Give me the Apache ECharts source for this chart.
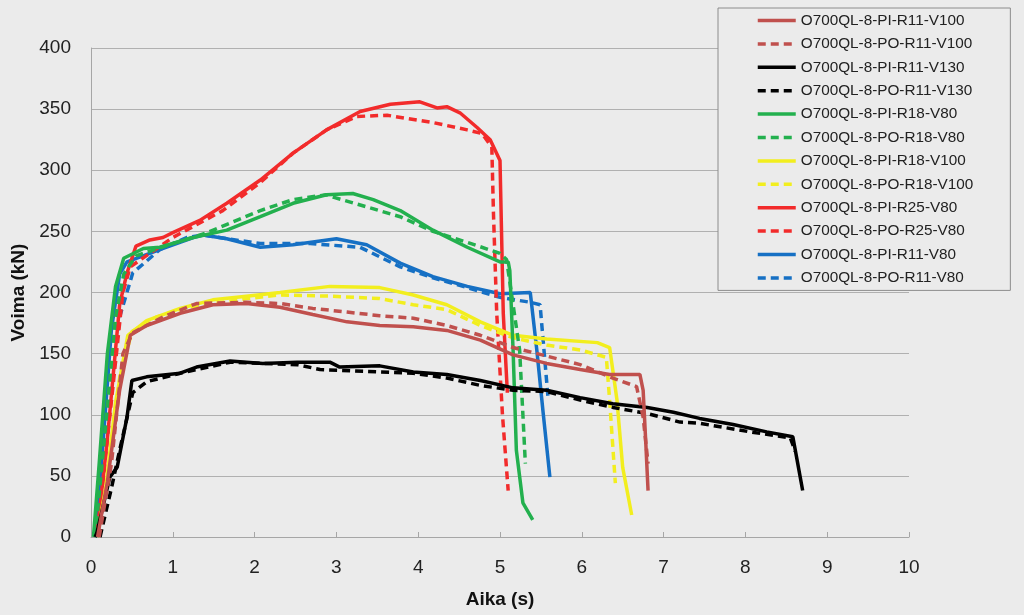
<!DOCTYPE html>
<html>
<head>
<meta charset="utf-8">
<title>Voima - Aika</title>
<script src="https://cdn.jsdelivr.net/npm/echarts@6/dist/echarts.min.js"></script>
<style>
	html,body{margin:0;padding:0;background:#ebebeb;}
	#main{width:1024px;height:615px;}
</style>
</head>
<body>
<div id="main"></div>
<script>
	// [aika (s), voima (kN)] luettu kuvasta
	var pi_r11_v100 = [[0.08,0],[0.2,45],[0.35,120],[0.48,165],[0.68,173],[1.09,183],[1.49,190],[1.9,191],[2.31,188],[2.71,182],[3.13,176],[3.53,173],[3.94,172],[4.35,169],[4.76,161],[5.16,149],[5.57,142],[5.98,137],[6.34,133],[6.71,133],[6.75,120],[6.78,80],[6.81,38]];
	var po_r11_v100 = [[0.1,0],[0.25,60],[0.39,150],[0.51,167],[0.88,180],[1.29,191],[1.9,192],[2.31,191],[2.71,187],[3.13,184],[3.53,181],[3.94,179],[4.35,173],[4.76,165],[5.16,155],[5.57,148],[5.98,141],[6.38,130],[6.67,123],[6.75,98],[6.81,60]];
	var pi_r11_v130 = [[0.05,0],[0.07,3],[0.23,49],[0.32,57],[0.44,98],[0.5,128],[0.68,131],[1.09,134],[1.29,139],[1.7,144],[2.1,142],[2.52,143],[2.92,143],[3.04,139],[3.53,140],[3.94,135],[4.35,133],[4.76,128],[5.16,122],[5.57,120],[5.98,114],[6.38,109],[6.8,106],[7.12,102],[7.44,97],[7.85,92],[8.26,86],[8.58,82],[8.64,60],[8.7,38]];
	var po_r11_v130 = [[0.11,0],[0.25,40],[0.35,71],[0.51,118],[0.68,127],[1.09,134],[1.7,143],[2.1,142],[2.52,141],[2.8,137],[3.53,135],[3.94,134],[4.35,130],[4.76,124],[5.16,120],[5.57,119],[5.98,112],[6.38,106],[6.8,101],[7.2,94],[7.44,93],[8.06,86],[8.55,81],[8.61,70]];
	var pi_r18_v80 = [[0.03,0],[0.1,60],[0.2,150],[0.3,205],[0.4,228],[0.64,236],[0.84,237],[1.25,245],[1.66,251],[2.07,262],[2.47,273],[2.88,280],[3.2,281],[3.45,276],[3.78,267],[4.18,251],[4.6,237],[5.0,225],[5.1,225],[5.12,218],[5.16,153],[5.2,71],[5.28,28],[5.4,14]];
	var po_r18_v80 = [[0.05,0],[0.15,70],[0.3,180],[0.4,215],[0.55,230],[1.0,240],[1.42,249],[2.07,267],[2.47,276],[2.88,280],[2.96,278],[3.37,270],[3.78,262],[4.18,250],[4.6,241],[5.0,232],[5.08,227],[5.16,190],[5.24,153],[5.31,60]];
	var pi_r18_v100 = [[0.07,0],[0.18,40],[0.3,110],[0.45,165],[0.68,177],[1.09,187],[1.49,194],[1.9,197],[2.31,200],[2.92,205],[3.53,204],[3.94,198],[4.35,190],[4.76,176],[5.16,165],[5.57,162],[6.19,159],[6.34,155],[6.43,112],[6.5,57],[6.61,18]];
	var po_r18_v100 = [[0.08,0],[0.2,45],[0.35,130],[0.5,168],[0.8,180],[1.2,188],[1.9,195],[2.31,198],[2.92,197],[3.53,195],[3.94,190],[4.35,186],[4.76,173],[5.16,163],[5.57,157],[5.98,153],[6.3,147],[6.34,112],[6.41,44]];
	var pi_r25_v80 = [[0.07,0],[0.2,80],[0.35,190],[0.44,216],[0.55,238],[0.72,243],[0.88,245],[1.0,249],[1.33,259],[1.66,273],[2.07,292],[2.47,314],[2.88,333],[3.29,348],[3.66,354],[4.02,356],[4.23,351],[4.35,352],[4.51,347],[4.72,335],[4.88,325],[5.0,308],[5.04,183],[5.09,118]];
	var po_r25_v80 = [[0.08,0],[0.2,80],[0.39,200],[0.48,221],[1.0,245],[1.61,267],[2.07,290],[2.47,314],[2.88,333],[3.25,344],[3.62,345],[4.18,339],[4.6,333],[4.78,330],[4.9,319],[4.92,265],[4.96,183],[5.03,100],[5.1,38]];
	var pi_r11_v80 = [[0.05,0],[0.15,80],[0.25,170],[0.35,215],[0.44,225],[0.84,235],[1.25,245],[1.37,247],[1.66,244],[2.07,237],[2.47,239],[3.0,244],[3.37,239],[3.78,224],[4.18,213],[4.6,205],[5.0,199],[5.37,200],[5.39,200],[5.45,153],[5.53,100],[5.61,49]];
	var po_r11_v80 = [[0.06,0],[0.2,90],[0.35,180],[0.51,216],[0.84,235],[1.17,245],[1.37,247],[2.07,240],[2.68,240],[3.29,237],[3.78,221],[4.18,212],[4.6,204],[5.0,196],[5.37,192],[5.49,190],[5.59,112]];

	var names = ['O700QL-8-PI-R11-V100','O700QL-8-PO-R11-V100','O700QL-8-PI-R11-V130','O700QL-8-PO-R11-V130','O700QL-8-PI-R18-V80','O700QL-8-PO-R18-V80','O700QL-8-PI-R18-V100','O700QL-8-PO-R18-V100','O700QL-8-PI-R25-V80','O700QL-8-PO-R25-V80','O700QL-8-PI-R11-V80','O700QL-8-PO-R11-V80'];
	var datas = [pi_r11_v100,po_r11_v100,pi_r11_v130,po_r11_v130,pi_r18_v80,po_r18_v80,pi_r18_v100,po_r18_v100,pi_r25_v80,po_r25_v80,pi_r11_v80,po_r11_v80];
	var colors = ['#c0504d','#c0504d','#000000','#000000','#23b04e','#23b04e','#f2ee1e','#f2ee1e','#f22b2b','#f22b2b','#1670c4','#1670c4'];

	var font = '"Liberation Sans", "DejaVu Sans", sans-serif';

	var series = [];
	for (var i = 0; i < names.length; i++) {
		series.push({
			name: names[i],
			type: 'line',
			data: datas[i],
			symbol: 'none',
			showSymbol: false,
			z: 10 - Math.floor(i / 2),
			lineStyle: {
				color: colors[i],
				width: 3.5,
				type: i % 2 == 1 ? [8, 5] : 'solid'
			},
			itemStyle: {color: colors[i]}
		});
	}

	var myChart = echarts.init(document.getElementById('main'));
	var option = {
		backgroundColor: '#ebebeb',
		animation: false,
		grid: {left: 91, right: 115, top: 48, bottom: 78},
		legend: {
			orient: 'vertical',
			left: 718,
			top: 8,
			padding: [5, 37, 5, 38],
			backgroundColor: '#ebebeb',
			borderColor: '#8c8c8c',
			borderWidth: 1,
			itemWidth: 38,
			itemHeight: 14,
			itemGap: 8.4,
			itemStyle: {opacity: 0},
			lineStyle: {width: 3.5},
			data: names,
			textStyle: {fontSize: 15.3, color: '#222', fontFamily: font}
		},
		xAxis: {
			type: 'value',
			min: 0,
			max: 10,
			interval: 1,
			name: 'Aika (s)',
			nameLocation: 'middle',
			nameGap: 53,
			nameTextStyle: {fontSize: 19, fontWeight: 'bold', color: '#111', fontFamily: font},
			axisLine: {show: true, lineStyle: {color: '#a6a6a6', width: 1}},
			axisTick: {show: true, inside: true, length: 5, lineStyle: {color: '#a6a6a6'}},
			axisLabel: {fontSize: 19, color: '#222', margin: 21, fontFamily: font},
			splitLine: {show: false}
		},
		yAxis: {
			type: 'value',
			min: 0,
			max: 400,
			interval: 50,
			name: 'Voima (kN)',
			nameLocation: 'middle',
			nameGap: 60,
			nameTextStyle: {fontSize: 19, fontWeight: 'bold', color: '#111', fontFamily: font},
			axisLine: {show: true, lineStyle: {color: '#a6a6a6', width: 1}},
			axisTick: {show: false},
			axisLabel: {fontSize: 19, color: '#222', margin: 20, fontFamily: font},
			splitLine: {show: true, lineStyle: {color: '#b0b0b0', width: 1}}
		},
		series: series
	};
	myChart.setOption(option);
</script>
</body>
</html>
